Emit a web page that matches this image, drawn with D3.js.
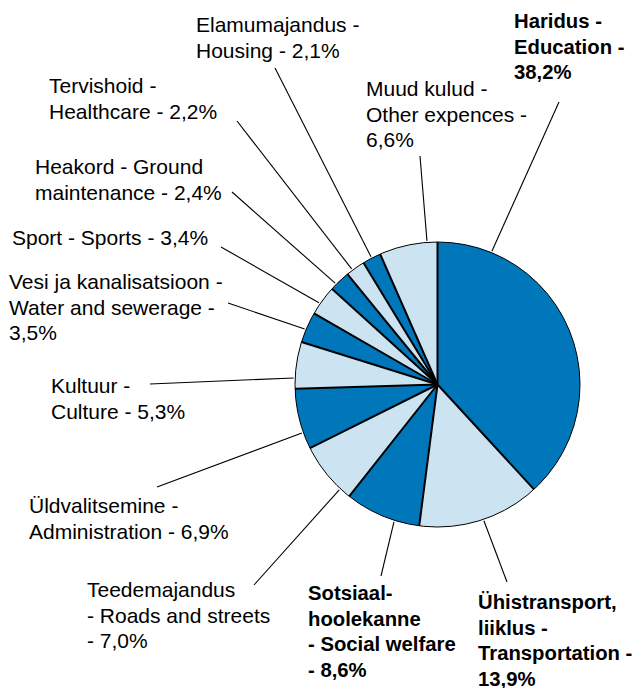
<!DOCTYPE html>
<html><head><meta charset="utf-8">
<script src="https://cdn.jsdelivr.net/npm/d3@7"></script>
<style>body{margin:0;background:#fff}svg{display:block}</style>
</head><body>
<svg id="chart" width="636" height="688"></svg>
<script>
// Data
const categories = [
  "Haridus - Education",
  "Ühistransport, liiklus - Transportation",
  "Sotsiaalhoolekanne - Social welfare",
  "Teedemajandus - Roads and streets",
  "Üldvalitsemine - Administration",
  "Kultuur - Culture",
  "Vesi ja kanalisatsioon - Water and sewerage",
  "Sport - Sports",
  "Heakord - Ground maintenance",
  "Tervishoid - Healthcare",
  "Elamumajandus - Housing",
  "Muud kulud - Other expences"
];
const values = [38.2, 13.9, 8.6, 7.0, 6.9, 5.3, 3.5, 3.4, 2.4, 2.2, 2.1, 6.6];
const labelLines = [
  ["Haridus -", "Education -", "38,2%"],
  ["Ühistransport,", "liiklus -", "Transportation -", "13,9%"],
  ["Sotsiaal-", "hoolekanne", "- Social welfare", "- 8,6%"],
  ["Teedemajandus", "- Roads and streets", "- 7,0%"],
  ["Üldvalitsemine -", "Administration - 6,9%"],
  ["Kultuur -", "Culture - 5,3%"],
  ["Vesi ja kanalisatsioon -", "Water and sewerage -", "3,5%"],
  ["Sport - Sports - 3,4%"],
  ["Heakord - Ground", "maintenance - 2,4%"],
  ["Tervishoid -", "Healthcare - 2,2%"],
  ["Elamumajandus -", "Housing - 2,1%"],
  ["Muud kulud -", "Other expences -", "6,6%"]
];
const boldLabels = [true, true, true, false, false, false, false, false, false, false, false, false];

// Layout (positions of labels and leader lines)
const layout = [
  {tx:514, ty:28,  lx:559, ly:102, ang:22.2},
  {tx:478, ty:609, lx:507, ly:582, ang:161.2},
  {tx:308, ty:600, lx:381, ly:576, ang:197.6},
  {tx:87,  ty:597, lx:254, ly:585, ang:223},
  {tx:29,  ty:513, lx:157, ly:487, ang:250.3},
  {tx:51,  ty:393, lx:150, ly:384, ang:272.6},
  {tx:9,   ty:289, lx:228, ly:303, ang:292.7},
  {tx:12,  ty:245, lx:221, ly:247, ang:304.6},
  {tx:35,  ty:174, lx:232, ly:192, ang:314.7},
  {tx:49,  ty:93,  lx:237, ly:121, ang:323.4},
  {tx:196, ty:32,  lx:275, ly:68,  ang:332.5},
  {tx:366, ty:96,  lx:420, ly:156, ang:355.8}
];
const colors = ["#0077bb", "#cce3f1"];
const cx = 437.5, cy = 384.5, R = 142.5;
const lineH = 25.5;

const svg = d3.select("#chart");
const g = svg.append("g").attr("transform", `translate(${cx},${cy})`);
const pie = d3.pie().sort(null).value(d => d)(values);
const arc = d3.arc().innerRadius(0).outerRadius(R);

g.selectAll("path.slice").data(pie).join("path")
  .attr("class", "slice")
  .attr("d", arc)
  .attr("fill", (d, i) => colors[i % 2]);

g.append("circle").attr("r", R).attr("fill", "none").attr("stroke", "#000").attr("stroke-width", 1);

g.selectAll("line.edge").data(pie).join("line")
  .attr("class", "edge")
  .attr("x1", 0).attr("y1", 0)
  .attr("x2", d => R * Math.sin(d.startAngle))
  .attr("y2", d => -R * Math.cos(d.startAngle))
  .attr("stroke", "#000").attr("stroke-width", 2);

// leader lines
const rl = R + 1.5;
svg.selectAll("line.leader").data(layout).join("line")
  .attr("class", "leader")
  .attr("x1", d => d.lx).attr("y1", d => d.ly)
  .attr("x2", d => cx + rl * Math.sin(d.ang * Math.PI / 180))
  .attr("y2", d => cy - rl * Math.cos(d.ang * Math.PI / 180))
  .attr("stroke", "#000").attr("stroke-width", 1.1);

// labels
layout.forEach((p, i) => {
  const t = svg.append("text")
    .attr("x", p.tx).attr("y", p.ty)
    .attr("font-family", "'Liberation Sans', Arial, sans-serif")
    .attr("font-size", boldLabels[i] ? 20.3 : 21)
    .attr("font-weight", boldLabels[i] ? "bold" : "normal")
    .attr("fill", "#000");
  labelLines[i].forEach((s, j) => {
    t.append("tspan").attr("x", p.tx).attr("y", p.ty + j * lineH).text(s);
  });
});
</script>
</body></html>
